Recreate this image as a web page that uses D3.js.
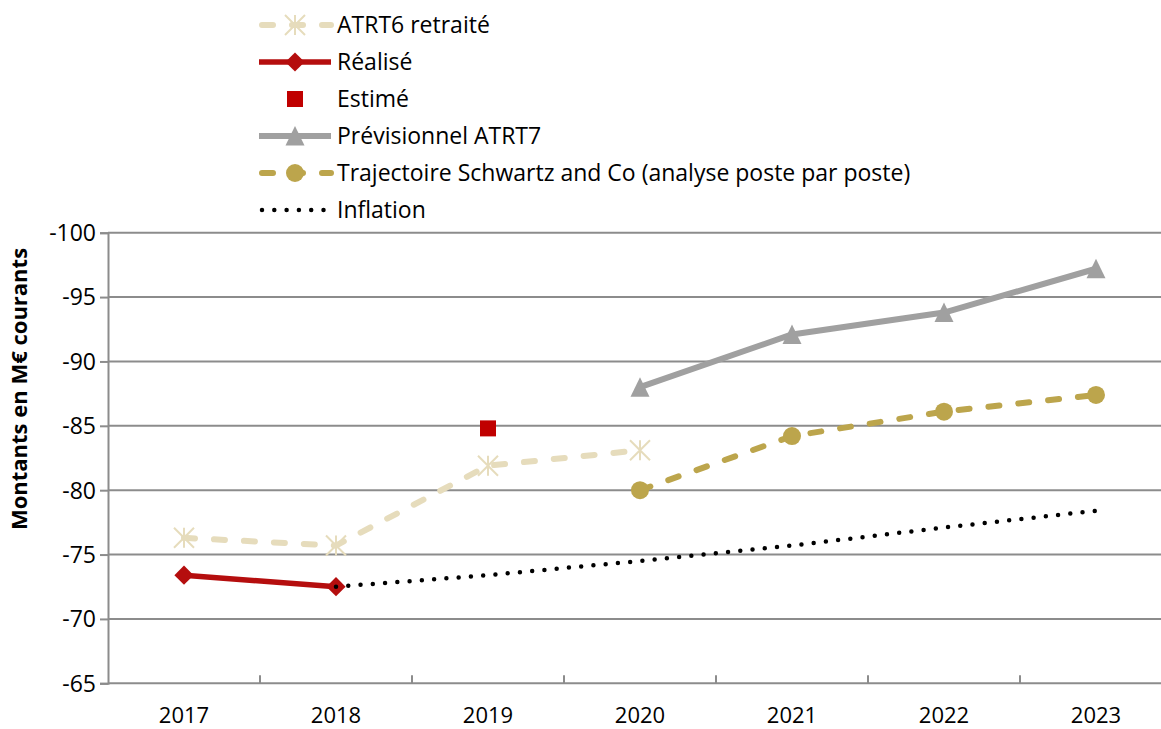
<!DOCTYPE html>
<html>
<head>
<meta charset="utf-8">
<script src="https://cdn.jsdelivr.net/npm/d3@7"></script>
<style>
  body { margin: 0; background: #fff; }
  svg { display: block; font-family: "Open Sans", "Noto Sans", sans-serif; }
</style>
</head>
<body>
<svg id="chart" width="1161" height="729"></svg>
<script>
var years = ["2017", "2018", "2019", "2020", "2021", "2022", "2023"];
var yTicks = [-100, -95, -90, -85, -80, -75, -70, -65];

// values, null = no point
var atrt6 = [-76.3, -75.7, -81.9, -83.1, null, null, null];
var realise = [-73.4, -72.5, null, null, null, null, null];
var estime = [null, null, -84.8, null, null, null, null];
var atrt7 = [null, null, null, -88.0, -92.1, -93.8, -97.2];
var schwartz = [null, null, null, -80.0, -84.2, -86.1, -87.4];
var inflation = [null, -72.5, -73.4, -74.5, -75.7, -77.1, -78.4];

var legendLabels = ["ATRT6 retraité", "Réalisé", "Estimé", "Prévisionnel ATRT7",
    "Trajectoire Schwartz and Co (analyse poste par poste)", "Inflation"];

// plot box (right edge runs past the window, like the reference)
var plotL = 108, plotR = 1172, plotT = 232.7, plotB = 683.3;
var gridColor = "#8c8c8c";
var fs = 23;

var svg = d3.select("#chart");

var x = d3.scaleBand().domain(years).range([plotL, plotR]).padding(0);
var y = d3.scaleLinear().domain([-100, -65]).range([plotT, plotB]);
function cx(i) { return x(years[i]) + x.bandwidth() / 2; }

// gridlines
svg.append("g").selectAll("line")
    .data(yTicks.slice(0, -1))
    .enter().append("line")
    .attr("x1", plotL).attr("x2", plotR)
    .attr("y1", function(d) { return y(d); })
    .attr("y2", function(d) { return y(d); })
    .attr("stroke", gridColor).attr("stroke-width", 2);

// y axis (plain hyphen, not the unicode minus)
var yAxis = d3.axisLeft(y).tickValues(yTicks).tickSize(8).tickPadding(4)
    .tickFormat(function(d) { return String(d); });
var gy = svg.append("g").attr("transform", "translate(" + plotL + ",0)").call(yAxis);
gy.select(".domain").attr("stroke", gridColor).attr("stroke-width", 2);
gy.selectAll(".tick line").attr("stroke", gridColor).attr("stroke-width", 2);
gy.selectAll(".tick text").attr("font-size", fs).attr("fill", "#000")
    .attr("font-family", "'Open Sans', sans-serif").attr("dy", "0.34em");

// x axis: ticks at category boundaries, pointing up
var gx = svg.append("g").attr("transform", "translate(0," + plotB + ")");
gx.append("line").attr("x1", plotL).attr("x2", plotR).attr("stroke", gridColor).attr("stroke-width", 2);
gx.selectAll("line.tk").data(years.slice(1)).enter().append("line")
    .attr("class", "tk")
    .attr("x1", function(d) { return x(d); }).attr("x2", function(d) { return x(d); })
    .attr("y1", 0).attr("y2", -8).attr("stroke", gridColor).attr("stroke-width", 2);
gx.selectAll("text").data(years).enter().append("text")
    .attr("x", function(d) { return x(d) + x.bandwidth() / 2; })
    .attr("y", 40).attr("text-anchor", "middle").attr("font-size", 22).text(function(d) { return d; });

// axis title
svg.append("text")
    .attr("transform", "translate(27,389) rotate(-90)")
    .attr("text-anchor", "middle").attr("font-size", 22).attr("font-weight", "bold")
    .text("Montants en M€ courants");

// lines
var line = d3.line()
    .defined(function(d) { return d != null; })
    .x(function(d, i) { return cx(i); })
    .y(function(d) { return y(d); });

var styles = [
  { data: atrt6, color: "#e6dcbc", width: 6, dash: "11 19", cap: "round" },
  { data: realise, color: "#b50e0e", width: 5.5, dash: null, cap: "butt" },
  { data: atrt7, color: "#a0a0a0", width: 6, dash: null, cap: "butt" },
  { data: schwartz, color: "#bca54c", width: 6, dash: "11 19", cap: "round" },
  { data: inflation, color: "#000", width: 4.5, dash: "0 12.3", cap: "round" }
];

function drawLine(s) {
  svg.append("path").datum(s.data)
    .attr("d", line).attr("fill", "none")
    .attr("stroke", s.color).attr("stroke-width", s.width)
    .attr("stroke-linecap", s.cap).attr("stroke-linejoin", "round")
    .attr("stroke-dasharray", s.dash);
}

// markers
function asterisk(g, px, py, color) {
  var r = 10;
  g.append("path")
    .attr("d", "M" + px + "," + (py - r) + "V" + (py + r) +
               "M" + (px - r) + "," + (py - r) + "L" + (px + r) + "," + (py + r) +
               "M" + (px - r) + "," + (py + r) + "L" + (px + r) + "," + (py - r))
    .attr("stroke", color).attr("stroke-width", 2).attr("fill", "none");
}
function diamond(g, px, py, color) {
  g.append("path").attr("d", d3.symbol().type(d3.symbolSquare).size(185)())
    .attr("transform", "translate(" + px + "," + py + ") rotate(45)")
    .attr("fill", color);
}
function square(g, px, py, color) {
  g.append("rect").attr("x", px - 8).attr("y", py - 8).attr("width", 16).attr("height", 16).attr("fill", color);
}
function triangle(g, px, py, color) {
  g.append("path")
    .attr("d", "M" + px + "," + (py - 10) + "L" + (px + 9.5) + "," + (py + 9.5) + "L" + (px - 9.5) + "," + (py + 9.5) + "Z")
    .attr("fill", color);
}
function dot(g, px, py, color) {
  g.append("circle").attr("cx", px).attr("cy", py).attr("r", 9).attr("fill", color);
}

var markerSets = [
  { data: atrt6, fn: asterisk, color: "#e6dcbc" },
  { data: realise, fn: diamond, color: "#b50e0e" },
  { data: estime, fn: square, color: "#c00000" },
  { data: atrt7, fn: triangle, color: "#a0a0a0" },
  { data: schwartz, fn: dot, color: "#bca54c" }
];

styles.slice(0, 4).forEach(drawLine);
var gm = svg.append("g");
markerSets.forEach(function(m) {
  m.data.forEach(function(v, i) {
    if (v != null) m.fn(gm, cx(i), y(v), m.color);
  });
});
// inflation last, it sits on top of the 2018 diamond
drawLine(styles[4]);

// legend
var legendY = [25, 62, 99, 136, 173, 210];
var lx0 = 259, lx1 = 331, lmid = 295;
var lg = svg.append("g");
var legendItems = [
  { s: styles[0], fn: asterisk, color: "#e6dcbc" },
  { s: styles[1], fn: diamond, color: "#b50e0e" },
  { s: null, fn: square, color: "#c00000" },
  { s: styles[2], fn: triangle, color: "#a0a0a0" },
  { s: styles[3], fn: dot, color: "#bca54c" },
  { s: styles[4], fn: null, color: "#000" }
];
legendItems.forEach(function(it, i) {
  var ly = legendY[i];
  if (it.s) {
    lg.append("line").attr("x1", it.s.dash ? lx0 + 3 : lx0).attr("x2", lx1).attr("y1", ly).attr("y2", ly)
      .attr("stroke", it.s.color).attr("stroke-width", it.s.width)
      .attr("stroke-linecap", it.s.cap).attr("stroke-dasharray", it.s.dash);
  }
  if (it.fn) it.fn(lg, lmid, ly, it.color);
  lg.append("text").attr("x", 337).attr("y", ly + 8).attr("font-size", fs).text(legendLabels[i]);
});
</script>
</body>
</html>
